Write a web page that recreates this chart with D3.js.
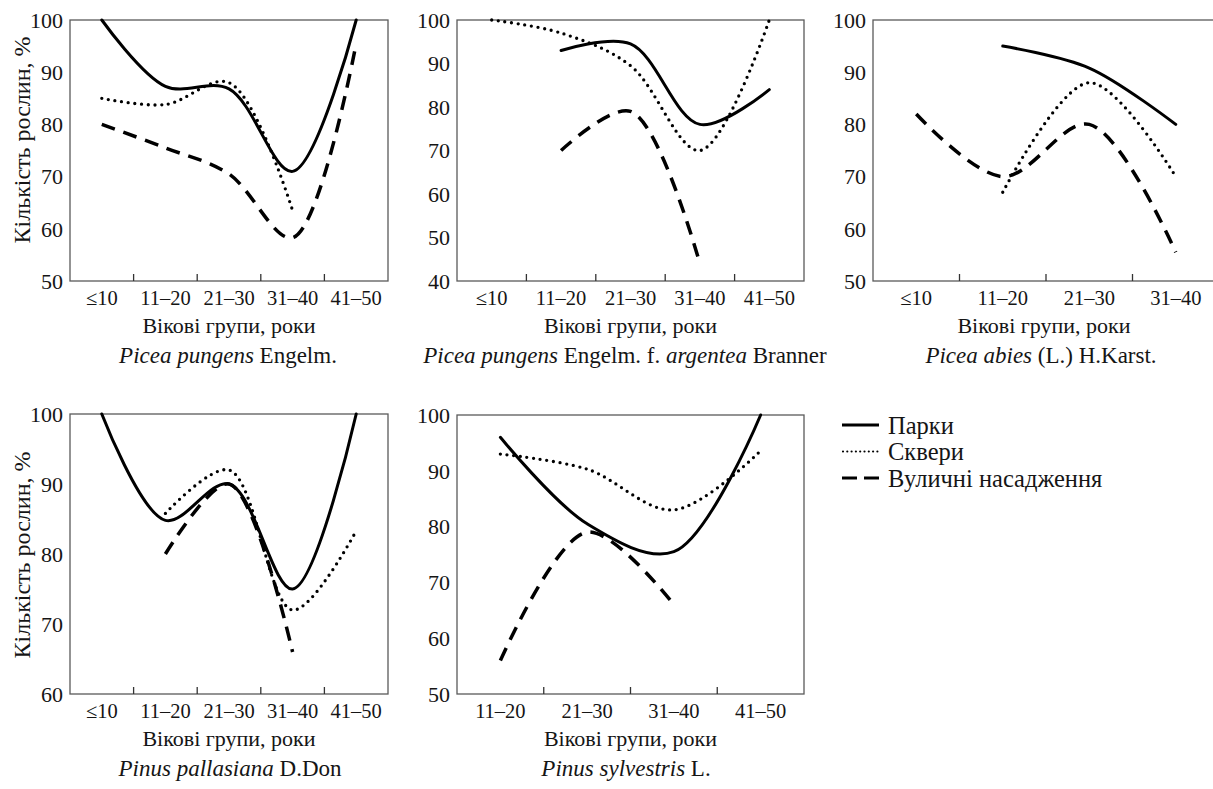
<!DOCTYPE html>
<html>
<head>
<meta charset="utf-8">
<script src="https://cdn.jsdelivr.net/npm/d3@7"></script>
<style>
  body { margin: 0; background: #fff; }
  svg { display: block; }
  text { font-family: "Liberation Serif", "Times New Roman", serif; }
</style>
</head>
<body>
<svg id="chart" width="1213" height="789"></svg>
<script>
// ---------- DATA ----------
const seriesNames = ["Парки", "Сквери", "Вуличні насадження"];
const categories5 = ["≤10", "11–20", "21–30", "31–40", "41–50"];
const categories4a = ["≤10", "11–20", "21–30", "31–40"];
const categories4b = ["11–20", "21–30", "31–40", "41–50"];

// Picea pungens Engelm.
const p1Parks   = [100, 87.3, 86.8, 71, 100];
const p1Squares = [85, 83.8, 88, 63.5, null];
const p1Streets = [80, 75.5, 70.5, 58.3, 95.5];
// Picea pungens f. argentea
const p2Parks   = [null, 93, 94.5, 76, 84];
const p2Squares = [100, 97, 89.5, 70, 100];
const p2Streets = [null, 70, 79, 44, null];
// Picea abies
const p3Parks   = [null, 95, 90.8, 80];
const p3Squares = [null, 67, 88, 70];
const p3Streets = [82, 70, 80, 55.5];
// Pinus pallasiana
const p4Parks   = [100, 84.8, 90, 75, 100];
const p4Squares = [null, 85.8, 92, 72, 83.3];
const p4Streets = [null, 80, 90, 66, null];
// Pinus sylvestris
const p5Parks   = [96, 80.5, 75.5, 100];
const p5Squares = [93, 90.3, 83, 93.6];
const p5Streets = [56, 79, 66, null];

const yTicks1 = [50, 60, 70, 80, 90, 100];
const yTicks2 = [40, 50, 60, 70, 80, 90, 100];
const yTicks4 = [60, 70, 80, 90, 100];

const xAxisTitle = "Вікові групи, роки";
const yAxisTitle = "Кількість рослин, %";

// ---------- LAYOUT ----------
const FONT = "'Liberation Serif', 'Times New Roman', serif";
const panels = [
  { cats: categories5, series: [p1Parks, p1Squares, p1Streets], yDom: [50, 100], yTicks: yTicks1,
    x0: 70, x1: 388, y0: 20, y1: 281, yLabel: true, yLabelCenter: 140,
    title: [["Picea pungens", true], [" Engelm.", false]], titleX: 228 },
  { cats: categories5, series: [p2Parks, p2Squares, p2Streets], yDom: [40, 100], yTicks: yTicks2,
    x0: 457, x1: 804, y0: 20, y1: 281, yLabel: false,
    title: [["Picea pungens", true], [" Engelm. f. ", false], ["argentea", true], [" Branner", false]], titleX: 625 },
  { cats: categories4a, series: [p3Parks, p3Squares, p3Streets], yDom: [50, 100], yTicks: yTicks1,
    x0: 873, x1: 1219, y0: 20, y1: 281, yLabel: false, axisCenter: 1044,
    title: [["Picea abies", true], [" (L.) H.Karst.", false]], titleX: 1041 },
  { cats: categories5, series: [p4Parks, p4Squares, p4Streets], yDom: [60, 100], yTicks: yTicks4,
    x0: 70, x1: 388, y0: 414, y1: 694, yLabel: true, yLabelCenter: 555,
    title: [["Pinus pallasiana", true], [" D.Don", false]], titleX: 230 },
  { cats: categories4b, series: [p5Parks, p5Squares, p5Streets], yDom: [50, 100], yTicks: yTicks1,
    x0: 457, x1: 804, y0: 415, y1: 694, yLabel: false,
    title: [["Pinus sylvestris", true], [" L.", false]], titleX: 626 }
];

const styles = [
  { width: 3, dash: null, cap: "round" },
  { width: 3.3, dash: "0 6.7", cap: "round" },
  { width: 3.5, dash: "14 9", cap: "butt" }
];

const svg = d3.select("#chart");

panels.forEach(p => {
  const g = svg.append("g");
  const x = d3.scaleBand().domain(p.cats).range([p.x0, p.x1]);
  const y = d3.scaleLinear().domain(p.yDom).range([p.y1, p.y0]);

  g.append("rect")
    .attr("x", p.x0).attr("y", p.y0)
    .attr("width", p.x1 - p.x0).attr("height", p.y1 - p.y0)
    .attr("fill", "none").attr("stroke", "#5a5a5a").attr("stroke-width", 1.3);

  const bounds = p.cats.slice(1);
  g.selectAll(".xt").data(bounds).enter().append("line")
    .attr("x1", d => x(d)).attr("x2", d => x(d))
    .attr("y1", p.y1).attr("y2", p.y1 - 7)
    .attr("stroke", "#333").attr("stroke-width", 1.3);

  g.selectAll(".xl").data(p.cats).enter().append("text")
    .attr("x", d => x(d) + x.bandwidth() / 2)
    .attr("y", p.y1 + 24)
    .attr("text-anchor", "middle")
    .style("font-family", FONT).attr("font-size", 20.5)
    .attr("fill", "#151515")
    .text(d => d);

  g.selectAll(".yl").data(p.yTicks).enter().append("text")
    .attr("x", p.x0 - 7)
    .attr("y", d => y(d))
    .attr("dy", "0.35em")
    .attr("text-anchor", "end")
    .style("font-family", FONT).attr("font-size", 22)
    .attr("fill", "#151515")
    .text(d => d);

  const ac = p.axisCenter || (p.x0 + p.x1) / 2;
  g.append("text")
    .attr("x", ac).attr("y", p.y1 + 52)
    .attr("text-anchor", "middle")
    .style("font-family", FONT).attr("font-size", 22).attr("fill", "#151515")
    .text(xAxisTitle);

  if (p.yLabel) {
    g.append("text")
      .attr("transform", `translate(30,${p.yLabelCenter}) rotate(-90)`)
      .attr("text-anchor", "middle")
      .style("font-family", FONT).attr("font-size", 24).attr("fill", "#151515")
      .text(yAxisTitle);
  }

  const t = g.append("text")
    .attr("x", p.titleX).attr("y", p.y1 + 82)
    .attr("text-anchor", "middle")
    .style("font-family", FONT).attr("font-size", 23).attr("fill", "#151515");
  p.title.forEach(([s, it]) => {
    t.append("tspan").attr("font-style", it ? "italic" : "normal").text(s);
  });

  const line = d3.line()
    .x(d => x(d.c) + x.bandwidth() / 2)
    .y(d => y(d.v))
    .curve(d3.curveCatmullRom.alpha(0.5));

  p.series.forEach((vals, i) => {
    const data = p.cats.map((c, j) => ({ c, v: vals[j] })).filter(d => d.v != null);
    const st = styles[i];
    g.append("path")
      .attr("d", line(data))
      .attr("fill", "none")
      .attr("stroke", "#000")
      .attr("stroke-width", st.width)
      .attr("stroke-linecap", st.cap)
      .attr("stroke-linejoin", "round")
      .attr("stroke-dasharray", st.dash);
  });
});

// legend
const legend = svg.append("g");
const legendY = [425, 451.5, 478];
const legendDash = [null, "0 4.3", "15 7"];
seriesNames.forEach((name, i) => {
  legend.append("line")
    .attr("x1", i === 1 ? 843 : 842).attr("x2", 879)
    .attr("y1", legendY[i]).attr("y2", legendY[i])
    .attr("stroke", "#000")
    .attr("stroke-width", i === 1 ? 2.2 : 3.2)
    .attr("stroke-linecap", i === 1 ? "round" : "butt")
    .attr("stroke-dasharray", legendDash[i]);
  legend.append("text")
    .attr("x", 888).attr("y", legendY[i])
    .attr("dy", "0.35em")
    .style("font-family", FONT).attr("font-size", 24.5).attr("fill", "#151515")
    .text(name);
});
</script>
</body>
</html>
